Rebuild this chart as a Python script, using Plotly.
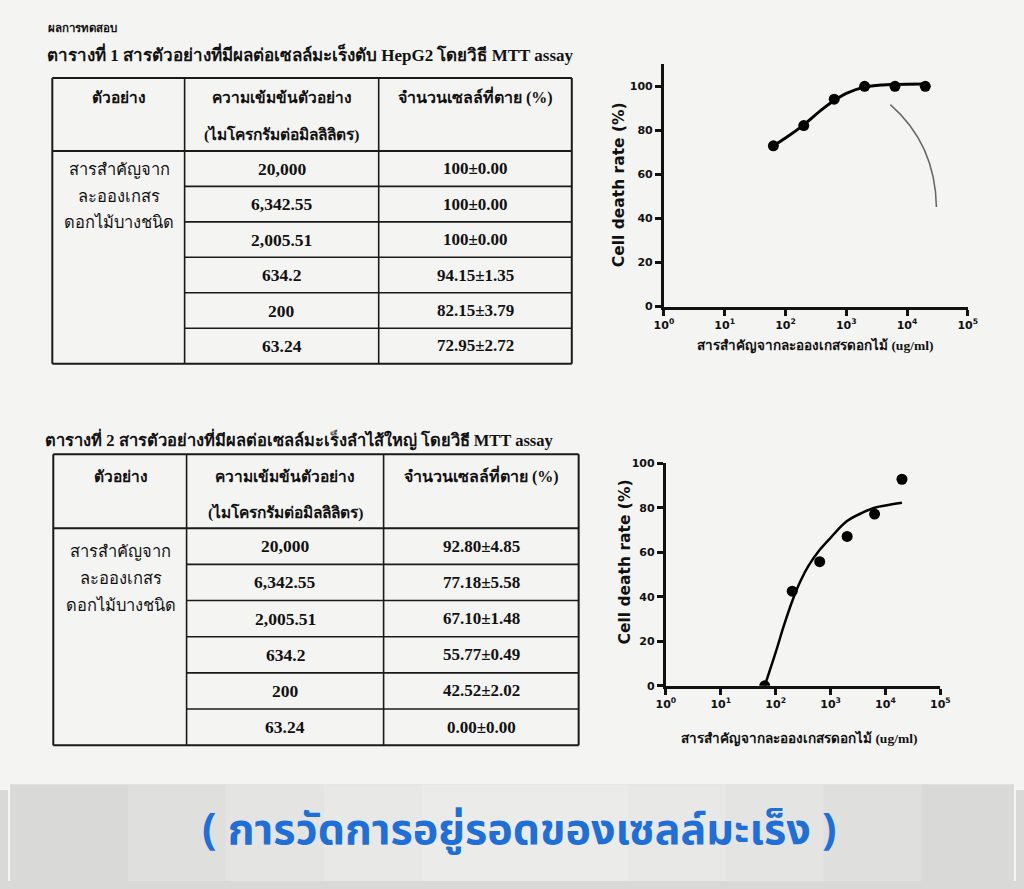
import plotly.graph_objects as go

# page is 1024x889; body keeps its default 8px margin, so the figure is 1008x873
PAGE_W, PAGE_H, M = 1024, 889, 8
W, H = PAGE_W - 2 * M, PAGE_H - 2 * M

# ---------------- data ----------------
conc = [20000, 6342.55, 2005.51, 634.2, 200, 63.24]          # ug/ml
t1_mean = [100, 100, 100, 94.15, 82.15, 72.95]                # HepG2
t1_sd = [0.00, 0.00, 0.00, 1.35, 3.79, 2.72]
t2_mean = [92.80, 77.18, 67.10, 55.77, 42.52, 0.00]           # colon
t2_sd = [4.85, 5.58, 1.48, 0.49, 2.02, 0.00]

# fitted curves
fit1_x = [63.24, 100, 200, 400, 634.2, 1000, 2005.51, 4000, 6342.55, 20000]
fit1_y = [73.0, 76.5, 82.5, 89.5, 93.5, 96.8, 99.6, 100.6, 100.8, 101.0]
fit2_x = [63.24, 100, 141, 200, 282, 398, 631, 1000, 1995, 3981, 6310, 10000, 20000]
fit2_y = [0.0, 15.0, 27.0, 38.0, 47.0, 54.0, 61.0, 66.5, 74.0, 78.0, 80.0, 81.0, 82.2]

x_tickvals = [1, 10, 100, 1000, 10000, 100000]
x_ticktext = ["<b>10<sup>0</sup></b>", "<b>10<sup>1</sup></b>", "<b>10<sup>2</sup></b>",
              "<b>10<sup>3</sup></b>", "<b>10<sup>4</sup></b>", "<b>10<sup>5</sup></b>"]
y_tickvals = [0, 20, 40, 60, 80, 100]
y_ticktext = ["<b>0</b>", "<b>20</b>", "<b>40</b>", "<b>60</b>", "<b>80</b>", "<b>100</b>"]

page_title = "ผลการทดสอบ"
cap1 = "ตารางที่ 1 สารตัวอย่างที่มีผลต่อเซลล์มะเร็งตับ HepG2 โดยวิธี MTT assay"
cap2 = "ตารางที่ 2 สารตัวอย่างที่มีผลต่อเซลล์มะเร็งลำไส้ใหญ่ โดยวิธี MTT assay"
hdr_sample = "ตัวอย่าง"
hdr_conc = ["ความเข้มข้นตัวอย่าง", "(ไมโครกรัมต่อมิลลิลิตร)"]
hdr_death = "จำนวนเซลล์ที่ตาย (%)"
sample_lines = ["สารสำคัญจาก", "ละอองเกสร", "ดอกไม้บางชนิด"]
ytitle = "Cell death rate (%)"
xtitle = "สารสำคัญจากละอองเกสรดอกไม้ (ug/ml)"
banner = "( การวัดการอยู่รอดของเซลล์มะเร็ง )"


def X(px):
    return (px - M) / W


def Y(py):
    return 1 - (py - M) / H


fig = go.Figure()

# ---------------- charts ----------------
fig.add_trace(go.Scatter(x=fit1_x, y=fit1_y, mode="lines", line=dict(color="black", width=3, shape="spline"),
                         xaxis="x", yaxis="y", showlegend=False, hoverinfo="skip"))
fig.add_trace(go.Scatter(x=conc, y=t1_mean, mode="markers", marker=dict(color="black", size=11),
                         xaxis="x", yaxis="y", showlegend=False))
fig.add_trace(go.Scatter(x=fit2_x, y=fit2_y, mode="lines", line=dict(color="black", width=2.5, shape="spline"),
                         xaxis="x2", yaxis="y2", showlegend=False, hoverinfo="skip"))
fig.add_trace(go.Scatter(x=conc, y=t2_mean, mode="markers", marker=dict(color="black", size=11),
                         xaxis="x2", yaxis="y2", showlegend=False))

tickfont = dict(family="DejaVu Sans, Arial, sans-serif", size=11, color="#111")
common_x = dict(type="log", tickvals=x_tickvals, ticktext=x_ticktext, showline=True, linecolor="#111",
                linewidth=3, ticks="outside", ticklen=6, tickwidth=2.5, tickcolor="#111", showgrid=False,
                zeroline=False, tickfont=tickfont, range=[0, 5])
common_y = dict(tickvals=y_tickvals, ticktext=y_ticktext, showline=True, linecolor="#111", linewidth=3,
                ticks="outside", ticklen=6, tickwidth=2.5, tickcolor="#111", showgrid=False, zeroline=False,
                tickfont=tickfont)

fig.update_layout(
    xaxis=dict(common_x, domain=[X(667), X(977)], anchor="y"),
    yaxis=dict(common_y, domain=[Y(305), Y(59)], range=[0, 110], anchor="x"),
    xaxis2=dict(common_x, domain=[X(669), X(949)], anchor="y2"),
    yaxis2=dict(common_y, domain=[Y(690), Y(464)], range=[0, 100], anchor="x2"),
)

shapes = []
ann = []

# banner background (extends past the figure edge so it meets the page edges), lighter toward centre
shapes.append(dict(type="rect", xref="paper", yref="paper", x0=X(0), x1=X(PAGE_W), y0=Y(PAGE_H), y1=Y(790),
                   fillcolor="#d9d9d8", line=dict(width=0), layer="below"))
for a, b in [(120, 930), (220, 830), (320, 730), (420, 630)]:
    shapes.append(dict(type="rect", xref="paper", yref="paper", x0=X(a), x1=X(b), y0=Y(PAGE_H), y1=Y(790),
                       fillcolor="rgba(245,245,245,0.22)", line=dict(width=0), layer="below"))

serif = "Liberation Serif, Times New Roman, serif"
thai = "Noto Sans, DejaVu Sans, sans-serif"


def text(px, py, s, size=13, family=serif, bold=True, xanchor="center", color="#111", angle=0):
    ann.append(dict(x=X(px), y=Y(py), xref="paper", yref="paper", text=f"<b>{s}</b>" if bold else s,
                    showarrow=False, xanchor=xanchor, yanchor="middle", textangle=angle,
                    font=dict(family=family, size=size, color=color)))


def line(x0, y0, x1, y1, w=1.6):
    shapes.append(dict(type="line", xref="paper", yref="paper", x0=X(x0), y0=Y(y0), x1=X(x1), y1=Y(y1),
                       line=dict(color="#1a1a1a", width=w)))


def table(left, c1, c2, right, top, hdr_bot, row_h, means, sds, fmt, hdr_y, sample_y):
    bottom = hdr_bot + row_h * len(means)
    line(left, top, right, top, 2)
    line(left, bottom, right, bottom, 2)
    line(left, top, left, bottom, 2)
    line(right, top, right, bottom, 2)
    line(c1, top, c1, bottom)
    line(c2, top, c2, bottom)
    line(left, hdr_bot, right, hdr_bot, 2)
    for k in range(1, len(means)):
        line(c1, hdr_bot + row_h * k, right, hdr_bot + row_h * k)
    text((left + c1) / 2 + 1, hdr_y, hdr_sample, 15.5)
    text((c1 + c2) / 2, hdr_y, hdr_conc[0], 15.5)
    text((c1 + c2) / 2, hdr_y + 37, hdr_conc[1], 15.5)
    text((c2 + right) / 2, hdr_y - 1, hdr_death, 16)
    for i, s in enumerate(sample_lines):
        text((left + c1) / 2 + 1, sample_y + 27 * i, s, 16.5, family=thai, bold=False)
    for k, (c, m, sd) in enumerate(zip(conc, means, sds)):
        yc = hdr_bot + row_h * (k + 0.5)
        text((c1 + c2) / 2, yc, f"{c:,}", 17.5)
        text((c2 + right) / 2, yc, f"{fmt(m)}±{sd:.2f}", 17)


text(37, 22, page_title, 11.5, xanchor="left")
text(36, 49, cap1, 17, xanchor="left")
table(43, 178, 376, 573, 73, 147, 36.0, t1_mean, t1_sd, lambda m: f"{m:g}", 93, 165)
text(33, 440, cap2, 16.5, xanchor="left")
table(44, 180, 381, 580, 455, 530, 36.7, t2_mean, t2_sd, lambda m: f"{m:.2f}", 477, 553)

# axis titles
axfont = "DejaVu Sans, Arial, sans-serif"
text(622, 181, ytitle, 15.5, family=axfont, angle=-90)
text(627, 564, ytitle, 15.5, family=axfont, angle=-90)
text(821, 345, xtitle, 13.5, family=serif)
text(805, 743, xtitle, 13.5, family=serif)

# pen mark on the scan
shapes.append(dict(type="path", xref="paper", yref="paper",
                   path=f"M {X(898)},{Y(100)} Q {X(944)},{Y(140)} {X(945)},{Y(204)}",
                   line=dict(color="#666", width=1.5)))

# banner caption
text(520, 837, banner, 43, family="Noto Sans Thai, Kanit, Prompt, Noto Sans, sans-serif", color="#1f6fd8")

fig.update_layout(width=W, height=H, margin=dict(l=0, r=0, t=0, b=0),
                  paper_bgcolor="#f4f4f2", plot_bgcolor="rgba(0,0,0,0)",
                  shapes=shapes, annotations=ann, showlegend=False)

fig.write_html("out.html", config={"displayModeBar": False},
               post_script="document.body.style.background="
                           "'linear-gradient(to bottom, #f4f4f2 0px, #f4f4f2 790px, #d9d9d8 790px)';")
